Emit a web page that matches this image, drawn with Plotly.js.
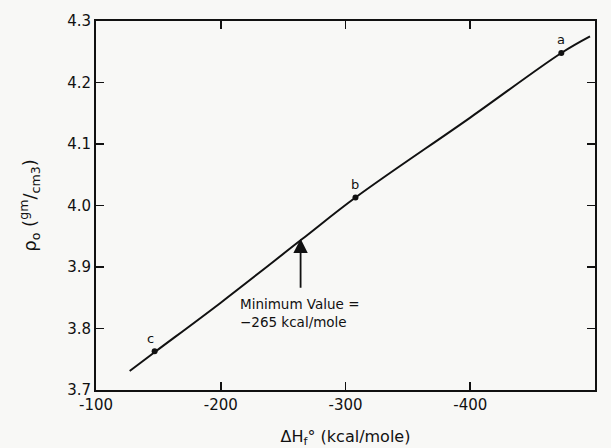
<!DOCTYPE html>
<html>
<head>
<meta charset="utf-8">
<script src="https://cdn.plot.ly/plotly-3.0.1.min.js"></script>
<style>html,body{margin:0;padding:0;background:#f8f8f6;}#chart{width:611px;height:448px;}</style>
</head>
<body>
<div id="chart"></div>
<script>
// Fitted curve
const curveX = [-127, -148, -200, -265, -308, -400, -473, -496];
const curveY = [3.731, 3.763, 3.842, 3.945, 4.013, 4.143, 4.248, 4.275];
// Data points
const pointLabels = ['a', 'b', 'c'];
const pointX = [-473, -308, -147];
const pointY = [4.248, 4.013, 3.763];
// Minimum value marker
const minX = -264;
const minY = 3.946;
const minTail = 3.864;
const minText = 'Minimum Value =<br>\u2212265 kcal/mole';
// Axis ticks
const xTicks = [-100, -200, -300, -400, -500];
const yTicks = [3.7, 3.8, 3.9, 4.0, 4.1, 4.2, 4.3];

const FONT = 'DejaVu Sans, sans-serif';
const L = 96, R = 595, T = 20.5, B = 390;

const traces = [
  {x: curveX, y: curveY, mode: 'lines', line: {color: '#111', width: 2, shape: 'spline'}, hoverinfo: 'skip'},
  {x: pointX, y: pointY, mode: 'markers', marker: {color: '#111', size: 6}, hoverinfo: 'skip'}
];

const annotations = [];
pointLabels.forEach((t, i) => {
  annotations.push({x: pointX[i], y: pointY[i], text: t, showarrow: false, yshift: 13, xshift: (t === 'c' ? -4 : 0),
    font: {family: FONT, size: 13, color: '#111'}});
});
annotations.push({x: minX, y: minY, ax: minX, ay: minTail, axref: 'x', ayref: 'y', xref: 'x', yref: 'y',
  showarrow: true, arrowhead: 2, arrowsize: 1.6, arrowwidth: 1.8, arrowcolor: '#111', text: ''});
annotations.push({x: -214, y: 3.826, xref: 'x', yref: 'y', xanchor: 'left', align: 'left', showarrow: false,
  text: minText, font: {family: FONT, size: 13.5, color: '#111'}});

const axisCommon = {
  showline: true, mirror: 'ticks', linecolor: '#111', linewidth: 2,
  ticks: 'inside', ticklen: 8, tickwidth: 1.8, tickcolor: '#111',
  showgrid: false, zeroline: false,
  tickfont: {family: FONT, size: 15, color: '#111'}
};

const layout = {
  width: 611, height: 448,
  margin: {l: L, r: 611 - R, t: T, b: 448 - B},
  paper_bgcolor: '#f8f8f6', plot_bgcolor: '#f8f8f6',
  showlegend: false,
  xaxis: Object.assign({}, axisCommon, {
    range: [-100, -500], tickvals: xTicks, ticktext: xTicks.map(String),
    title: {text: '\u0394H<sub>f</sub>\u00b0 (kcal/mole)', font: {family: FONT, size: 16, color: '#111'}, standoff: 22}
  }),
  yaxis: Object.assign({}, axisCommon, {
    range: [3.7, 4.3], tickvals: yTicks, ticktext: yTicks.map(v => v.toFixed(1)),
    title: {text: '\u03c1<sub>o</sub> (<sup>gm</sup>/<sub>cm3</sub>)', font: {family: FONT, size: 18, color: '#111'}, standoff: 26}
  }),
  annotations: annotations
};

Plotly.newPlot('chart', traces, layout, {displayModeBar: false, staticPlot: true});
</script>
</body>
</html>
